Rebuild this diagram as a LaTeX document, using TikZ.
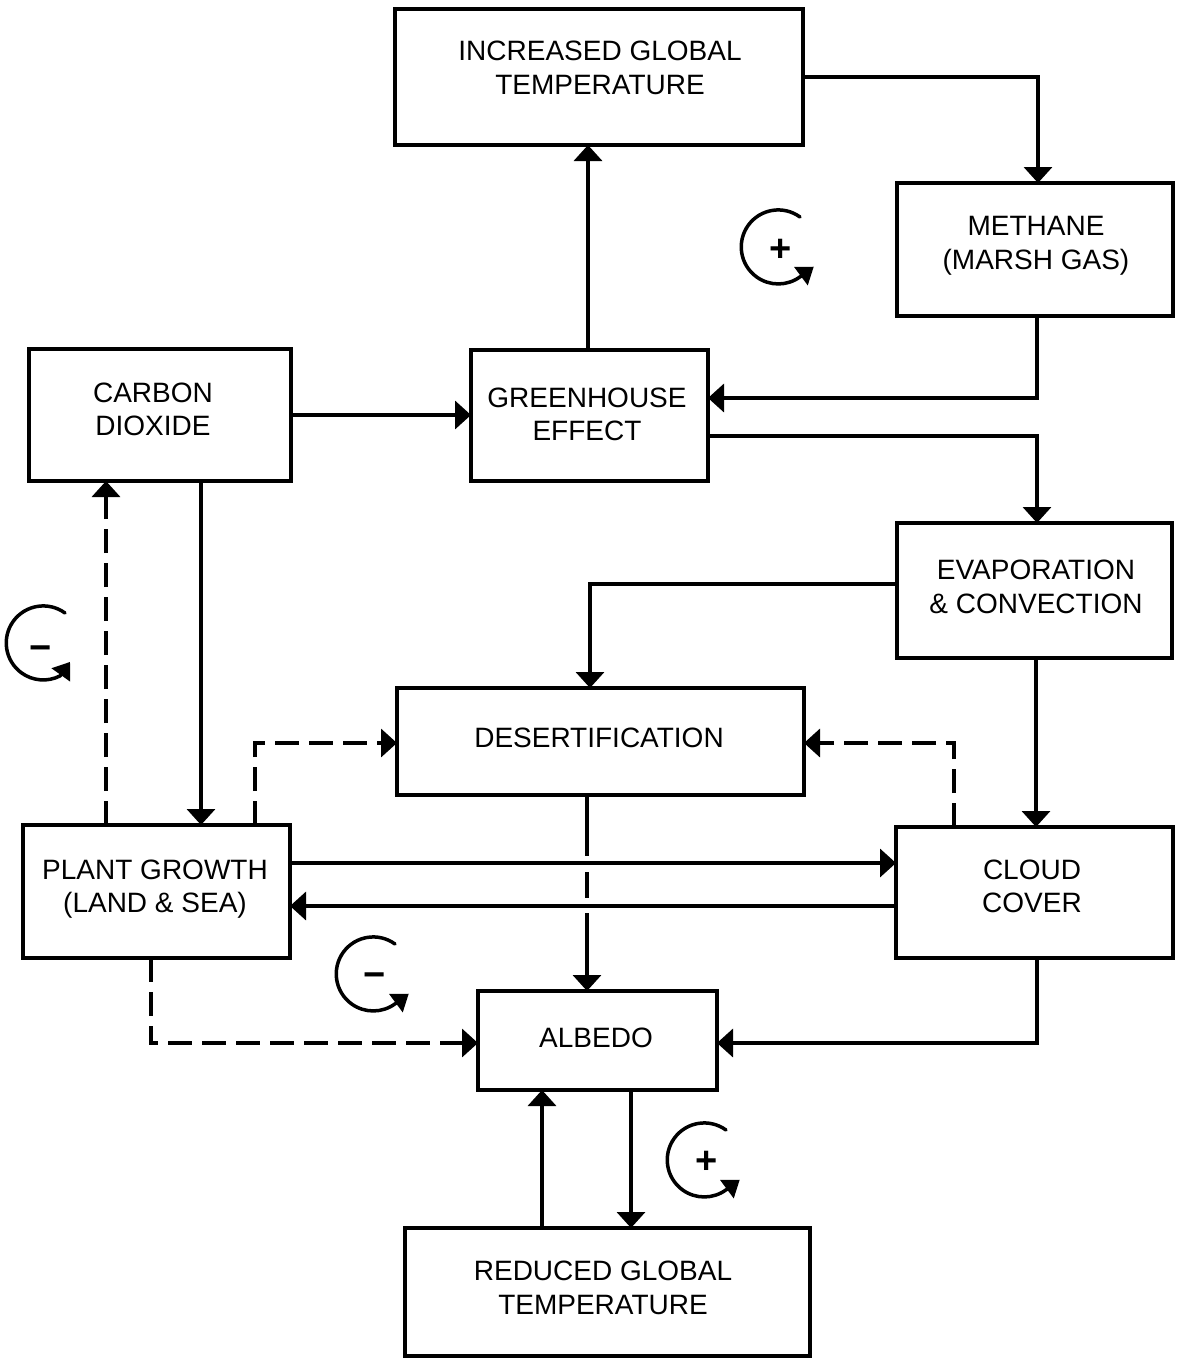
\documentclass[tikz,border=0pt]{standalone}
\usepackage{fontspec}
\setmainfont{Liberation Sans}
\usetikzlibrary{arrows.meta}
\tikzset{
    box/.style={draw, line width=3.5pt, inner sep=0pt, outer sep=0pt},
    boxtext/.style={align=center, font=\fontsize{28}{33.5}\selectfont, inner sep=0pt},
    signtext/.style={font=\fontsize{38}{38}\bfseries\selectfont, inner sep=0pt},
    link/.style={line width=3.5pt, -{Triangle[length=16pt,width=28pt]}},
    dashlink/.style={link, dash pattern=on 24pt off 10pt},
    cyclearrow/.style={line width=3.5pt, line cap=round, -{Triangle[length=16pt,width=22pt]}}
}
\begin{document}
\begin{tikzpicture}[x=1pt,y=-1pt]
    \useasboundingbox (0,0) rectangle (1181,1360);

    \node[box, minimum width=408pt, minimum height=136pt] (increased) at (599,77) {};
    \node[box, minimum width=276pt, minimum height=133pt] (methane) at (1035,249.5) {};
    \node[box, minimum width=262pt, minimum height=132pt] (carbon) at (160,415) {};
    \node[box, minimum width=237pt, minimum height=131pt] (greenhouse) at (589.5,415.5) {};
    \node[box, minimum width=275pt, minimum height=135pt] (evaporation) at (1034.5,590.5) {};
    \node[box, minimum width=407pt, minimum height=107pt] (desert) at (600.5,741.5) {};
    \node[box, minimum width=267pt, minimum height=133pt] (plant) at (156.5,891.5) {};
    \node[box, minimum width=277pt, minimum height=131pt] (cloud) at (1034.5,892.5) {};
    \node[box, minimum width=239pt, minimum height=99pt] (albedo) at (597.5,1040.5) {};
    \node[box, minimum width=405pt, minimum height=128pt] (reduced) at (607.5,1292) {};

    \node[boxtext] (increasedtext) at (600,68) {INCREASED GLOBAL\\TEMPERATURE};
    \node[boxtext] (methanetext) at (1036,246) {METHANE\\(MARSH GAS)};
    \node[boxtext] (carbontext) at (153,409.5) {CARBON\\DIOXIDE};
    \node[boxtext] (greenhousetext) at (587,414.5) {GREENHOUSE\\EFFECT};
    \node[boxtext] (evaporationtext) at (1036,587) {EVAPORATION\\\& CONVECTION};
    \node[boxtext] (deserttext) at (599,738) {DESERTIFICATION};
    \node[boxtext] (planttext) at (155,889) {PLANT GROWTH\\(LAND \& SEA)};
    \node[boxtext] (cloudtext) at (1032,886.5) {CLOUD\\COVER};
    \node[boxtext] (albedotext) at (596,1038) {ALBEDO};
    \node[boxtext] (reducedtext) at (603,1288) {REDUCED GLOBAL\\TEMPERATURE};

    \draw[link] (increased.east) -| ([xshift=3pt]methane.north);
    \draw[link] ([xshift=-1.5pt]greenhouse.north) -- ([xshift=-1.5pt]greenhouse.north |- increased.south);
    \draw[link] ([xshift=2pt]methane.south) |- ([yshift=17.5pt]greenhouse.east);
    \draw[link] (carbon.east) -- (carbon.east -| greenhouse.west);
    \draw[link] ([yshift=-20.5pt]greenhouse.east) -| ([xshift=2.5pt]evaporation.north);
    \draw[link] ([yshift=6.5pt]evaporation.west) -| ([xshift=-10.5pt]desert.north);
    \draw[link] ([xshift=1.5pt]evaporation.south) -- ([xshift=1.5pt]evaporation.south |- cloud.north);
    \draw[link] ([xshift=41pt]carbon.south) -- ([xshift=41pt]carbon.south |- plant.north);
    \draw[link] ([yshift=28.5pt]plant.east) -- ([yshift=28.5pt]plant.east -| cloud.west);
    \draw[link] ([yshift=-13.5pt]cloud.west) -- ([yshift=-13.5pt]cloud.west -| plant.east);
    \draw[link] ([xshift=2.5pt]cloud.south) |- ([yshift=-2.5pt]albedo.east);
    \draw[link] ([xshift=-65.5pt]reduced.north) -- ([xshift=-65.5pt]reduced.north |- albedo.south);
    \draw[link] ([xshift=33.5pt]albedo.south) -- ([xshift=33.5pt]albedo.south |- reduced.north);

    \draw[dashlink] ([xshift=-50.5pt]plant.north) -- ([xshift=-50.5pt]plant.north |- carbon.south);
    \draw[dashlink] ([xshift=98.5pt]plant.north) |- ([yshift=-1.5pt]desert.west);
    \draw[dashlink] ([xshift=-80.5pt]cloud.north) |- ([yshift=-1.5pt]desert.east);
    \draw[dashlink] ([xshift=-5.5pt]plant.south) |- ([yshift=-2.5pt]albedo.west);
    \draw[link, dash pattern=on 61pt off 16pt on 26pt off 15pt on 100pt] ([xshift=-13.5pt]desert.south) -- ([xshift=-13.5pt]desert.south |- albedo.north);

    \draw[cyclearrow] (800,217) arc[start angle=-54,end angle=-306.5,radius=37] -- ++(13.5,-10);
    \node[signtext] (plusone) at (781,250) {+};
    \draw[cyclearrow] (65,613) arc[start angle=-54,end angle=-297,radius=37] -- ++(10,-14);
    \node[signtext] (minusone) at (41,653) {\textminus};
    \draw[cyclearrow] (395,944) arc[start angle=-54,end angle=-306.5,radius=37] -- ++(13.5,-10);
    \node[signtext] (minustwo) at (375,980) {\textminus};
    \draw[cyclearrow] (726,1130) arc[start angle=-54,end angle=-306.5,radius=37] -- ++(13.5,-10);
    \node[signtext] (plustwo) at (707,1162) {+};
\end{tikzpicture}
\end{document}
